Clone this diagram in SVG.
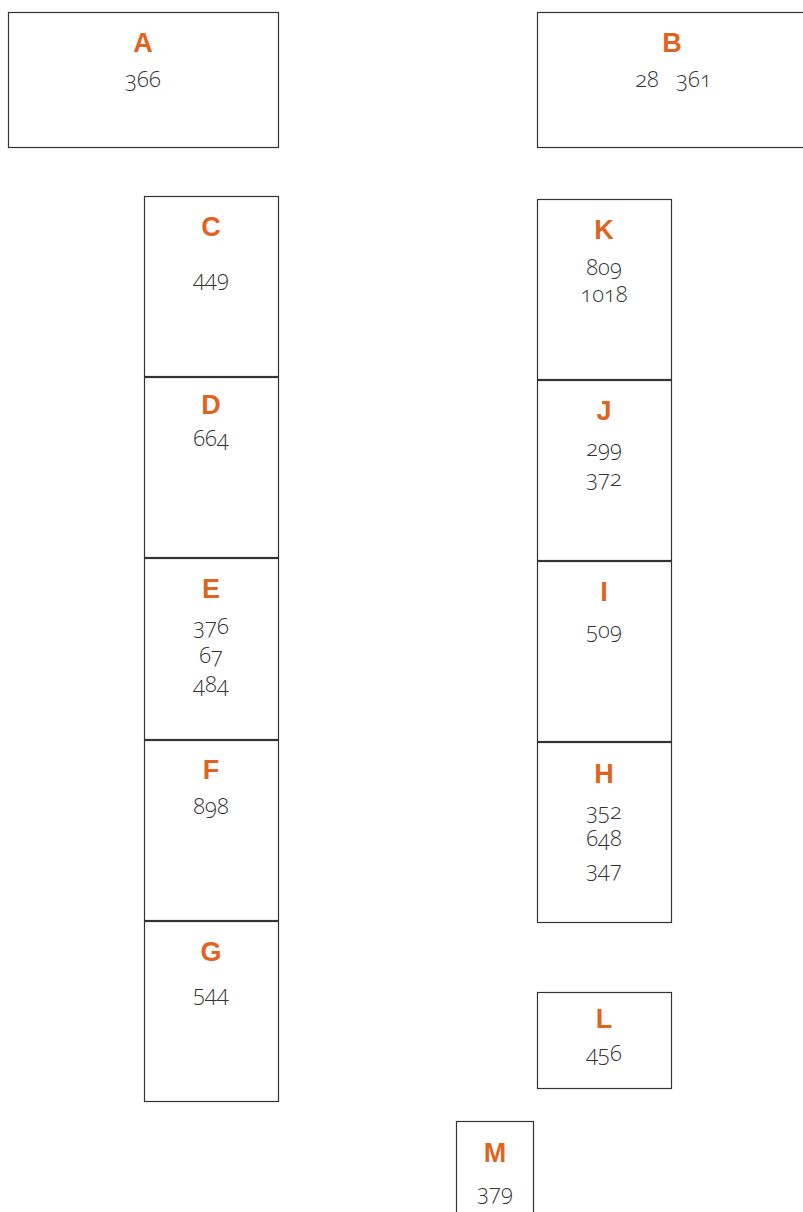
<svg xmlns="http://www.w3.org/2000/svg" width="803" height="1212" viewBox="0 0 803 1212">
<style>
.box{fill:#fff;stroke:#333;stroke-width:1.2}
.lbl{font-family:"Liberation Sans",Arial,sans-serif;font-weight:bold;font-size:27px;fill:#e0641f;text-anchor:middle}
.num{font-family:"Open Sans","Liberation Sans",sans-serif;font-weight:300;font-size:22px;fill:#333;text-anchor:middle;font-variant-numeric:oldstyle-nums;font-feature-settings:"onum" 1}
</style>
<rect width="803" height="1212" fill="#fff"/>
<g id="connectors"></g>
<g id="A"><rect class="box" x="8.5" y="12.5" width="270" height="135"/><text class="lbl" x="143" y="52">A</text><text class="num" x="143" y="87">366</text></g>
<g id="B"><rect class="box" x="537.5" y="12.5" width="275" height="135"/><text class="lbl" x="672" y="52">B</text><text class="num" x="647" y="87">28</text><text class="num" x="694" y="87">361</text></g>
<g id="C"><rect class="box" x="144.5" y="196.5" width="134" height="180"/><text class="lbl" x="211" y="236">C</text><text class="num" x="211" y="286">449</text></g>
<g id="D"><rect class="box" x="144.5" y="377.5" width="134" height="180"/><text class="lbl" x="211" y="414">D</text><text class="num" x="211" y="446">664</text></g>
<g id="E"><rect class="box" x="144.5" y="558.5" width="134" height="181"/><text class="lbl" x="211" y="598">E</text><text class="num" x="211" y="634">376</text><text class="num" x="211" y="663">67</text><text class="num" x="211" y="692">484</text></g>
<g id="F"><rect class="box" x="144.5" y="740.5" width="134" height="180"/><text class="lbl" x="211" y="779">F</text><text class="num" x="211" y="814">898</text></g>
<g id="G"><rect class="box" x="144.5" y="921.5" width="134" height="180"/><text class="lbl" x="211" y="961">G</text><text class="num" x="211" y="1001">544</text></g>
<g id="K"><rect class="box" x="537.5" y="199.5" width="134" height="180"/><text class="lbl" x="604" y="239">K</text><text class="num" x="604" y="275">809</text><text class="num" x="604" y="302">1018</text></g>
<g id="J"><rect class="box" x="537.5" y="380.5" width="134" height="180"/><text class="lbl" x="604" y="420">J</text><text class="num" x="604" y="456">299</text><text class="num" x="604" y="486">372</text></g>
<g id="I"><rect class="box" x="537.5" y="561.5" width="134" height="180"/><text class="lbl" x="604" y="601">I</text><text class="num" x="604" y="638">509</text></g>
<g id="H"><rect class="box" x="537.5" y="742.5" width="134" height="180"/><text class="lbl" x="604" y="783">H</text><text class="num" x="604" y="819">352</text><text class="num" x="604" y="846">648</text><text class="num" x="604" y="877">347</text></g>
<g id="L"><rect class="box" x="537.5" y="992.5" width="134" height="96"/><text class="lbl" x="604" y="1028">L</text><text class="num" x="604" y="1061">456</text></g>
<g id="M"><rect class="box" x="456.5" y="1121.5" width="77" height="100"/><text class="lbl" x="495" y="1162">M</text><text class="num" x="495" y="1200">379</text></g>
</svg>
